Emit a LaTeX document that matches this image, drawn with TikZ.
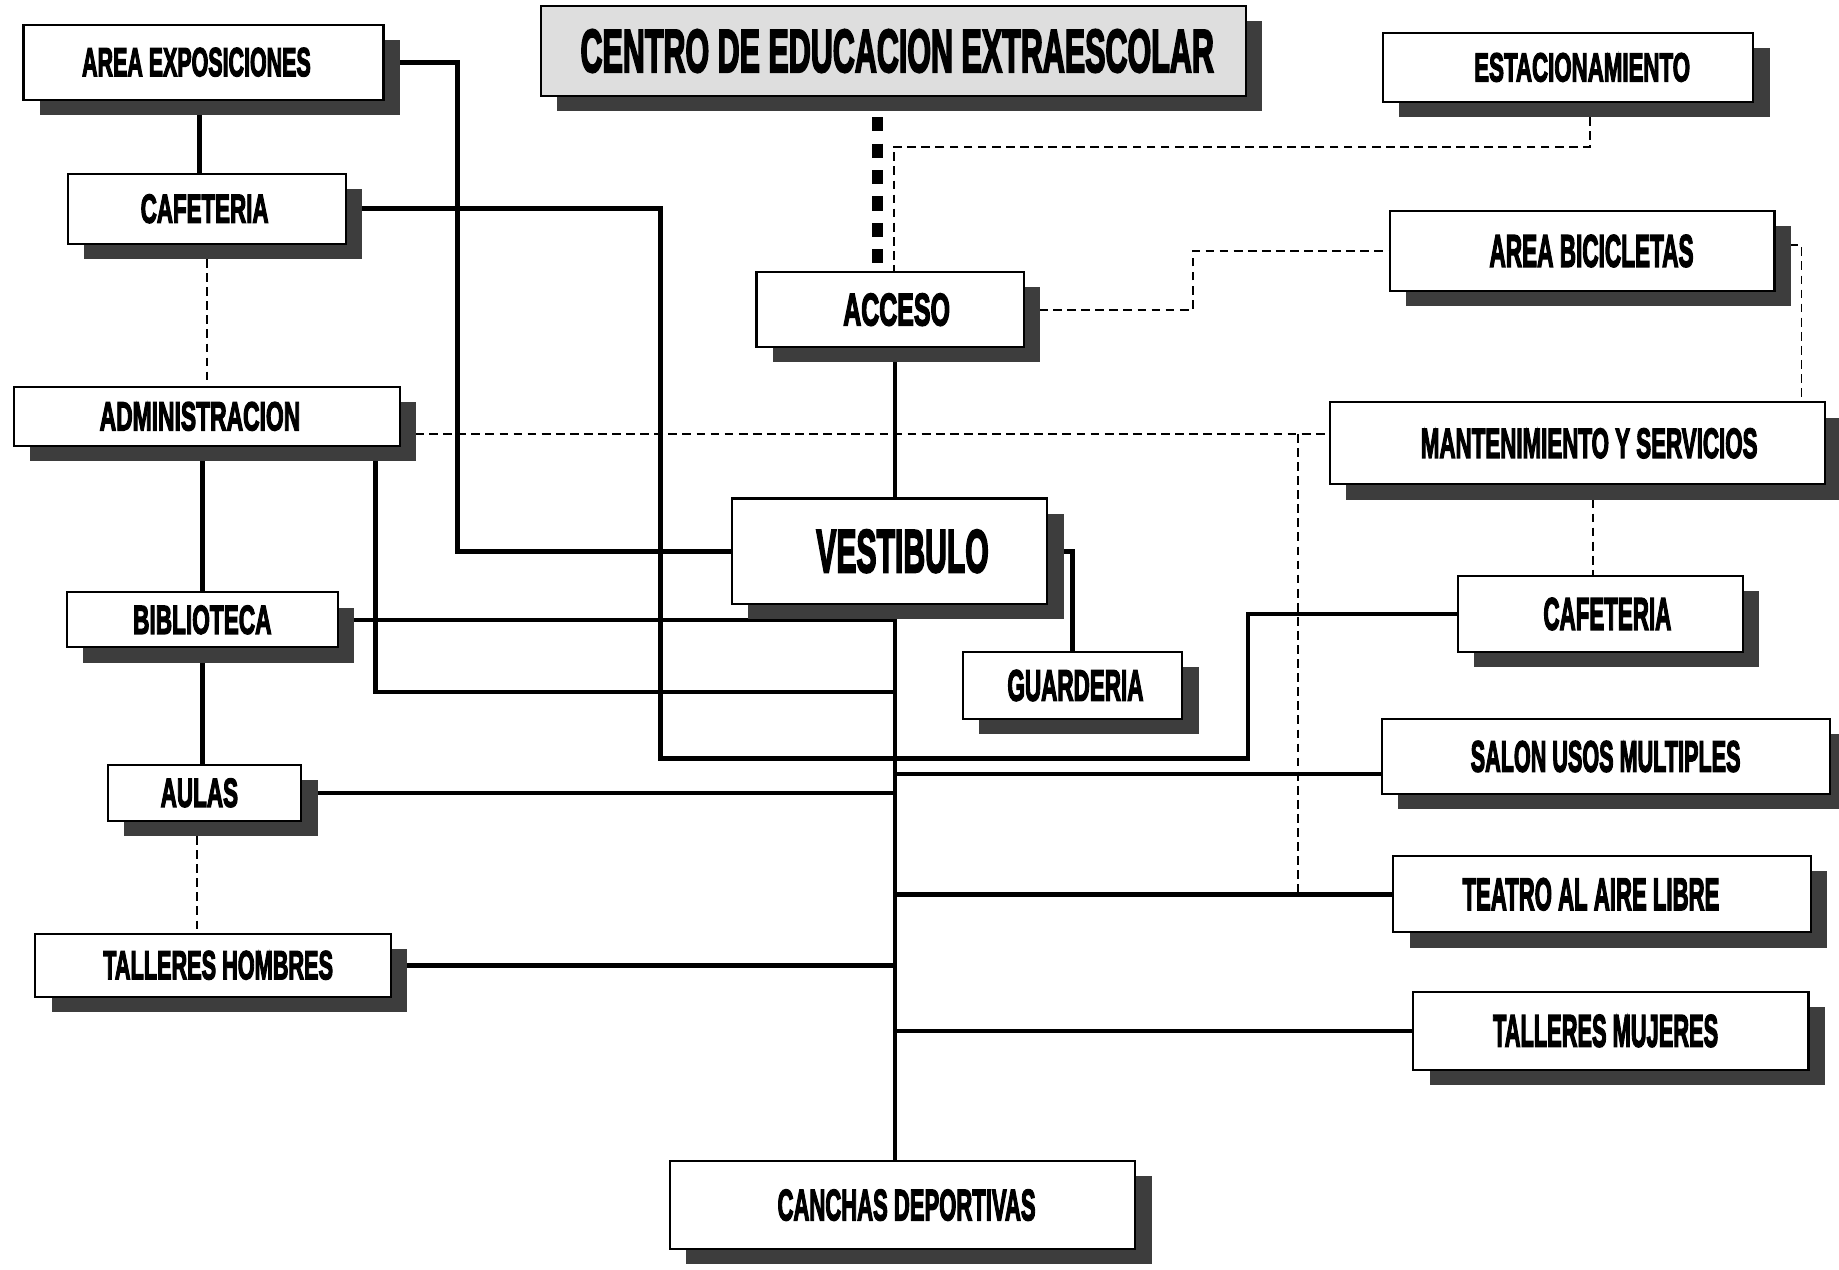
\documentclass[tikz,border=0pt]{standalone}
\usepackage{fontspec}
\usepackage{graphicx}
\usetikzlibrary{shadows,backgrounds}
\newfontfamily\bxf{Liberation Sans}[BoldFeatures={FakeBold=4}]
% \lb[shift]{width}{height}{text}: text scaled to width x cap height, moved right by shift
\newcommand\lb[4][0]{\hspace*{\dimexpr 2\dimexpr #1pt\relax\relax}\resizebox{#2pt}{#3pt}{\bxf\bfseries #4}}
\tikzset{
  bx/.style={draw=black, line width=1.8pt, fill=white, inner sep=0pt,
    drop shadow={shadow xshift=14pt, shadow yshift=-13pt, fill=black!76, opacity=1}},
  conn/.style={line width=4pt},
  dashconn/.style={line width=1.6pt, dash pattern=on 7.5pt off 4.5pt},
  bigdash/.style={line width=9pt, dash pattern=on 12pt off 10.5pt},
}
\begin{document}
\begin{tikzpicture}[x=1pt,y=-1pt]
\path[use as bounding box] (0,0) rectangle (1568,1082);
\clip (0,0) rectangle (1568,1082);

% nodes
\node[bx, minimum width=307pt, minimum height=64pt] (ae) at (173.5,53) {\lb[-6]{195}{24}{AREA EXPOSICIONES}};
\node[bx, minimum width=237pt, minimum height=60pt] (caf1) at (176.5,178) {\lb[-2]{109}{24}{CAFETERIA}};
\node[bx, minimum width=329pt, minimum height=50pt] (adm) at (176.5,355) {\lb[-6]{171}{24}{ADMINISTRACION}};
\node[bx, minimum width=231pt, minimum height=47pt] (bib) at (172.5,528.5) {\lb{118}{24}{BIBLIOTECA}};
\node[bx, minimum width=165pt, minimum height=48pt] (aul) at (174.5,676) {\lb[-4.5]{66}{24}{AULAS}};
\node[bx, minimum width=303pt, minimum height=54pt] (th) at (181.5,823) {\lb[4.5]{196}{24}{TALLERES HOMBRES}};
\node[bx, fill=black!13, minimum width=601pt, minimum height=77pt] (title) at (761.5,43.5) {\lb[3.5]{540}{36}{CENTRO DE EDUCACION EXTRAESCOLAR}};
\node[bx, minimum width=316pt, minimum height=59pt] (est) at (1337,57.5) {\lb[12]{184}{24}{ESTACIONAMIENTO}};
\node[bx, minimum width=228pt, minimum height=64pt] (acc) at (759,264) {\lb[5.5]{91}{27}{ACCESO}};
\node[bx, minimum width=328pt, minimum height=68pt] (bic) at (1349,214) {\lb[8]{174}{27}{AREA BICICLETAS}};
\node[bx, minimum width=422pt, minimum height=70pt] (mant) at (1345,378) {\lb[10]{287}{25}{MANTENIMIENTO Y SERVICIOS}};
\node[bx, minimum width=269pt, minimum height=90pt] (ves) at (758.5,470) {\lb[11]{147}{36}{VESTIBULO}};
\node[bx, minimum width=187pt, minimum height=57pt] (gua) at (914.5,584.5) {\lb[2.5]{116}{26}{GUARDERIA}};
\node[bx, minimum width=243pt, minimum height=65pt] (caf2) at (1364.5,523.5) {\lb[6]{109}{27}{CAFETERIA}};
\node[bx, minimum width=382pt, minimum height=64pt] (sum) at (1369,645) {\lb{230}{26}{SALON USOS MULTIPLES}};
\node[bx, minimum width=356pt, minimum height=65pt] (tea) at (1366,762.5) {\lb[-9.5]{219}{27}{TEATRO AL AIRE LIBRE}};
\node[bx, minimum width=337pt, minimum height=66pt] (tm) at (1373.5,879) {\lb[-4.5]{192}{27}{TALLERES MUJERES}};
\node[bx, minimum width=397pt, minimum height=75pt] (can) at (769.5,1027.5) {\lb[3.5]{220}{26}{CANCHAS DEPORTIVAS}};

% helper coordinates
\coordinate (trunk) at (763,0);
\coordinate (xa) at (170,0);
\coordinate (xb) at (390,0);
\coordinate (c1) at (563,647);
\coordinate (c2) at (1064,647);
\coordinate (f1) at (320,590);
\coordinate (sy) at (0,660);
\coordinate (bd) at (748,100);
\coordinate (e1) at (1356,125);
\coordinate (e2) at (762,125);
\coordinate (b1) at (1017,0);
\coordinate (m1) at (1536,209);
\coordinate (ay) at (0,370);
\coordinate (v1) at (1107,370);
\coordinate (mc) at (1358,0);
\coordinate (xat) at (168,0);

\begin{scope}[on background layer]
\fill[white] (0,0) rectangle (1568,1082);
% solid connectors
\draw[conn] (ae.south -| xa) -- (caf1.north -| xa);
\draw[conn] (ae.east) -- (ae.east -| xb) |- (ves.west);
\draw[conn] (caf1.east) -| (c1) -- (c2) |- (caf2.west);
\draw[conn] (bib.north) -- (bib.north |- adm.south);
\draw[conn] (bib.south) -- (bib.south |- aul.north);
\draw[conn] (adm.south -| f1) -- (f1) -- (f1 -| trunk);
\draw[conn] (bib.east) -- (bib.east -| trunk);
\draw[conn] (acc.south -| trunk) -- (ves.north -| trunk);
\draw[conn] (ves.south -| trunk) -- (can.north -| trunk);
\draw[conn] (ves.east) -| (gua.north);
\draw[conn] (aul.east) -- (aul.east -| trunk);
\draw[conn] (sum.west |- sy) -- (trunk |- sy);
\draw[conn] (tea.west) -- (tea.west -| trunk);
\draw[conn] (th.east) -- (th.east -| trunk);
\draw[conn] (tm.west) -- (tm.west -| trunk);
% dashed connectors
\draw[bigdash] (bd) -- (bd |- acc.north);
\draw[dashconn] (est.south -| e1) -- (e1) -- (e2) -- (e2 |- acc.north);
\draw[dashconn] (acc.east) -- (acc.east -| b1) |- (bic.west);
\draw[dashconn] (bic.east |- m1) -- (m1) -- (m1 |- mant.north);
\draw[dashconn] (adm.east |- ay) -- (mant.west |- ay);
\draw[dashconn] (v1) -- (v1 |- tea.west);
\draw[dashconn] (mant.south -| mc) -- (caf2.north -| mc);
\draw[dashconn] (caf1.south) -- (caf1.south |- adm.north);
\draw[dashconn] (aul.south -| xat) -- (th.north -| xat);
\end{scope}
\end{tikzpicture}
\end{document}
